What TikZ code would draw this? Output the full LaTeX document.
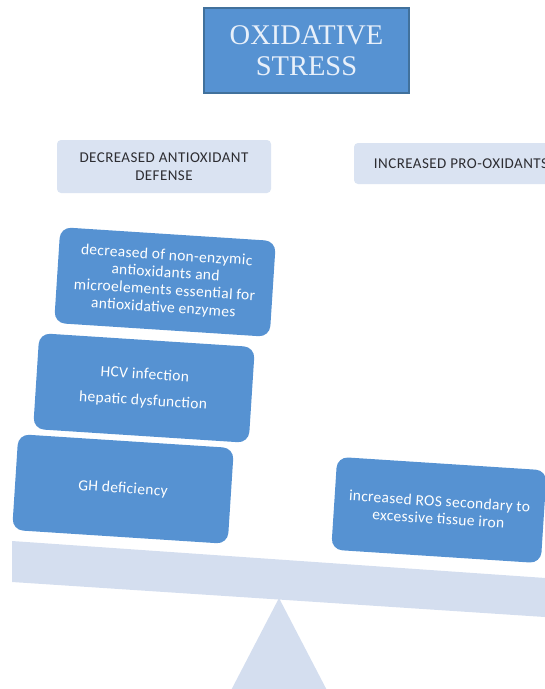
\documentclass[tikz,border=0pt]{standalone}
\usepackage{fontspec}
\setmainfont{Carlito}
\newfontfamily\titlefont{Liberation Serif}
\definecolor{boxblue}{RGB}{86,146,210}
\definecolor{titleedge}{RGB}{65,113,156}
\definecolor{titletext}{RGB}{232,240,250}
\definecolor{headfill}{RGB}{218,227,242}
\definecolor{headtext}{RGB}{45,45,50}
\definecolor{scalefill}{RGB}{212,222,239}

\begin{document}
\begin{tikzpicture}[x=1pt,y=-1pt]
\tikzset{
  titlebox/.style={draw=titleedge,fill=boxblue,line width=1.3pt,minimum width=205pt,minimum height=85pt,inner sep=0pt,align=center,text=titletext,font=\titlefont\fontsize{28.5}{31}\selectfont},
  headbox/.style={fill=headfill,rounded corners=4pt,minimum width=214pt,inner sep=0pt,align=center,text=headtext,font=\fontsize{15}{18}\selectfont\addfontfeature{LetterSpace=3}},
  causebox/.style={fill=boxblue,rounded corners=11pt,minimum width=216pt,minimum height=96pt,inner sep=0pt,rotate=-3.7,align=center,text=white,font=\fontsize{15.5}{17.5}\selectfont\addfontfeature{LetterSpace=2}},
  scalepart/.style={fill=scalefill,draw=none}
}
\clip (0,0) rectangle (545,689);
\fill[scalepart] (279,598) -- (226,700) -- (332,700) -- cycle;
\fill[scalepart] (12,541) -- (560,579) -- (560,618) -- (12,582) -- cycle;
\node[titlebox] (n_stress) at (306.5,50.5) {OXIDATIVE\\STRESS};
\node[headbox,minimum height=53pt] (n_defense) at (164,166.5) {DECREASED ANTIOXIDANT\\DEFENSE};
\node[headbox,minimum height=41pt] (n_prooxid) at (461,163.5) {INCREASED PRO-OXIDANTS};
\node[causebox] (n_micro) at (165,282) {decreased of non-enzymic\\antioxidants and\\microelements essential for\\antioxidative enzymes};
\node[causebox] (n_hcv) at (144,388) {HCV infection\\[9pt]hepatic dysfunction};
\node[causebox] (n_gh) at (123,489) {GH deficiency};
\node[causebox,minimum width=210pt,minimum height=93pt] (n_ros) at (439,510) {increased ROS secondary to\\excessive tissue iron};
\end{tikzpicture}
\end{document}
